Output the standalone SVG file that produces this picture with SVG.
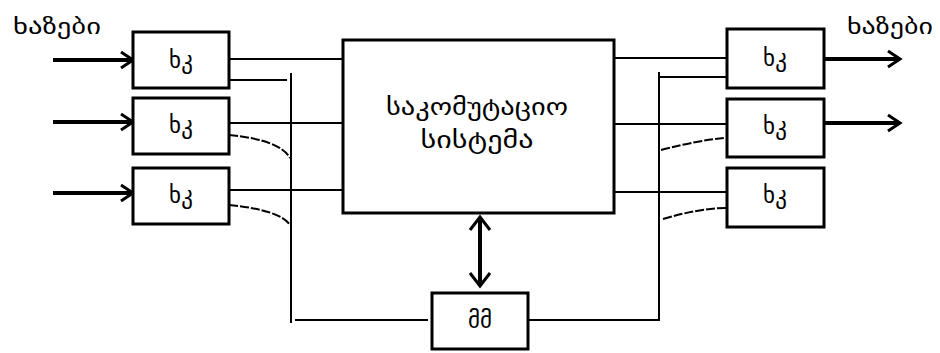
<svg xmlns="http://www.w3.org/2000/svg" width="940" height="353" viewBox="0 0 940 353">
<defs>
<marker id="ah" markerWidth="12" markerHeight="12" refX="10" refY="6" orient="auto" markerUnits="userSpaceOnUse" overflow="visible">
<path d="M0,-2 L12,6 L0,14" fill="none" stroke="#000" stroke-width="3"/>
</marker>
<marker id="ahs" markerWidth="14" markerHeight="14" refX="12" refY="7" orient="auto-start-reverse" markerUnits="userSpaceOnUse" overflow="visible">
<path d="M0,-3 L13,7 L0,17" fill="none" stroke="#000" stroke-width="3"/>
</marker>
<style>
.box{fill:#fff;stroke:#000;stroke-width:3}
.ln{fill:none;stroke:#000;stroke-width:2}
.dl{fill:none;stroke:#000;stroke-width:2;stroke-dasharray:9 2}
.ar{fill:none;stroke:#000;stroke-width:4}
.t{font-family:"DejaVu Sans",sans-serif;font-size:23px;fill:#000;text-anchor:middle}
.m{font-family:"DejaVu Sans",sans-serif;font-size:24px;fill:#000;text-anchor:middle}
.lb{font-family:"DejaVu Sans",sans-serif;font-size:21px;fill:#000}
</style>
</defs>
<rect width="940" height="353" fill="#fff"/>
<g id="connectors">
<line class="ar" x1="53" y1="60" x2="131" y2="60" marker-end="url(#ah)"/>
<line class="ar" x1="53" y1="122" x2="131" y2="122" marker-end="url(#ah)"/>
<line class="ar" x1="53" y1="193" x2="131" y2="193" marker-end="url(#ah)"/>
<line class="ar" x1="824" y1="59" x2="898" y2="59" marker-end="url(#ah)"/>
<line class="ar" x1="824" y1="123" x2="898" y2="123" marker-end="url(#ah)"/>
<line class="ln" x1="229" y1="59" x2="343" y2="59"/>
<line class="ln" x1="229" y1="123" x2="343" y2="123"/>
<line class="ln" x1="229" y1="190" x2="343" y2="190"/>
<line class="ln" x1="229" y1="80" x2="287" y2="80"/>
<path class="dl" d="M229,135 Q280,140 290,158"/>
<path class="dl" d="M229,205 Q280,210 290,225"/>
<line class="ln" x1="291" y1="73" x2="291" y2="323"/>
<line class="ln" x1="295" y1="320" x2="428" y2="320"/>
<line class="ln" x1="614" y1="58" x2="727" y2="58"/>
<line class="ln" x1="614" y1="124" x2="727" y2="124"/>
<line class="ln" x1="614" y1="192" x2="727" y2="192"/>
<line class="ln" x1="659" y1="77" x2="731" y2="77"/>
<path class="dl" d="M661,150 Q700,140 724,138"/>
<path class="dl" d="M663,219 Q700,208 727,208"/>
<line class="ln" x1="659" y1="72" x2="659" y2="321"/>
<line class="ln" x1="528" y1="320" x2="659" y2="320"/>
<line class="ar" x1="480" y1="218" x2="480" y2="285" marker-start="url(#ahs)" marker-end="url(#ahs)"/>
</g>
<g id="main">
<rect class="box" x="343" y="40" width="271" height="173"/>
<text class="m" x="477" y="115" textLength="182" lengthAdjust="spacingAndGlyphs">საკომუტაციო</text>
<text class="m" x="477" y="148" textLength="113" lengthAdjust="spacingAndGlyphs">სისტემა</text>
</g>
<g id="l1"><rect class="box" x="133" y="32" width="96" height="56"/><text class="t" x="181" y="68">ხკ</text></g>
<g id="l2"><rect class="box" x="133" y="98" width="96" height="56"/><text class="t" x="181" y="133">ხკ</text></g>
<g id="l3"><rect class="box" x="133" y="168" width="96" height="56"/><text class="t" x="181" y="203">ხკ</text></g>
<g id="r1"><rect class="box" x="727" y="29" width="97" height="59"/><text class="t" x="775" y="66">ხკ</text></g>
<g id="r2"><rect class="box" x="727" y="99" width="97" height="58"/><text class="t" x="775" y="134">ხკ</text></g>
<g id="r3"><rect class="box" x="727" y="168" width="97" height="59"/><text class="t" x="775" y="203">ხკ</text></g>
<g id="mem"><rect class="box" x="432" y="293" width="96" height="56"/><text class="t" x="480" y="328">მმ</text></g>
<g id="labels">
<text class="lb" x="13" y="34" textLength="88" lengthAdjust="spacingAndGlyphs">ხაზები</text>
<text class="lb" x="847" y="34" textLength="86" lengthAdjust="spacingAndGlyphs">ხაზები</text>
</g>
</svg>
